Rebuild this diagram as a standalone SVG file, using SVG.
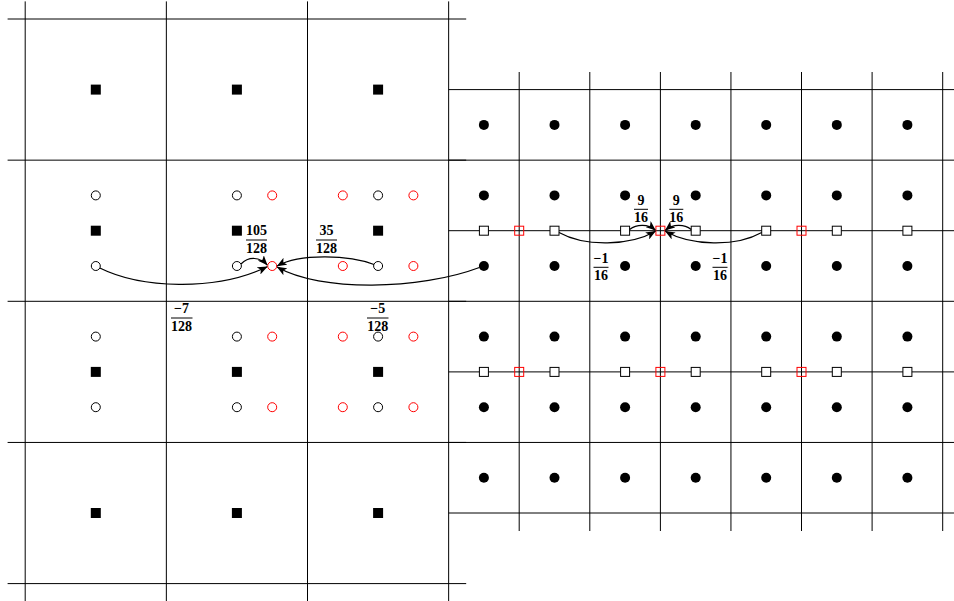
<svg xmlns="http://www.w3.org/2000/svg" width="954" height="601" viewBox="0 0 954 601">
<style>
.g{stroke:#000;stroke-width:1;fill:none}
.sq{fill:#000}
.oc{fill:#fff;stroke:#000;stroke-width:1}
.rc{fill:#fff;stroke:#f00;stroke-width:1}
.dot{fill:#000}
.os{fill:#fff;stroke:#000;stroke-width:1}
.rs{fill:none;stroke:#f00;stroke-width:1}
.con{fill:none;stroke:#000;stroke-width:1.2}
.t{font-family:"Liberation Serif","Times New Roman",serif;font-weight:bold;font-size:14px;text-anchor:middle;fill:#000}
.bar{stroke:#000;stroke-width:1}
</style>
<defs>
<marker id="ah" markerWidth="10" markerHeight="8" refX="9.5" refY="4" orient="auto" markerUnits="userSpaceOnUse">
<path d="M0,0 L10,4 L0,8 L2.5,4 z" fill="#000"/>
</marker>
</defs>
<rect width="954" height="601" fill="#fff"/>
<g id="grid-left" class="g">
<line x1="25.2" y1="1.4" x2="25.2" y2="601"/>
<line x1="166.35" y1="1.4" x2="166.35" y2="601"/>
<line x1="307.5" y1="1.4" x2="307.5" y2="601"/>
<line x1="448.65" y1="1.4" x2="448.65" y2="601"/>
<line x1="7.6" y1="19" x2="466.2" y2="19"/>
<line x1="7.6" y1="160.15" x2="466.2" y2="160.15"/>
<line x1="7.6" y1="301.3" x2="466.2" y2="301.3"/>
<line x1="7.6" y1="442.45" x2="466.2" y2="442.45"/>
<line x1="7.6" y1="583.6" x2="466.2" y2="583.6"/>
</g>
<g id="grid-right" class="g">
<line x1="519.2" y1="72" x2="519.2" y2="531"/>
<line x1="589.8" y1="72" x2="589.8" y2="531"/>
<line x1="660.4" y1="72" x2="660.4" y2="531"/>
<line x1="730.95" y1="72" x2="730.95" y2="531"/>
<line x1="801.5" y1="72" x2="801.5" y2="531"/>
<line x1="872.1" y1="72" x2="872.1" y2="531"/>
<line x1="942.7" y1="72" x2="942.7" y2="531"/>
<line x1="448.65" y1="89.6" x2="960" y2="89.6"/>
<line x1="448.65" y1="160.15" x2="960" y2="160.15"/>
<line x1="448.65" y1="230.7" x2="960" y2="230.7"/>
<line x1="448.65" y1="301.3" x2="960" y2="301.3"/>
<line x1="448.65" y1="371.9" x2="960" y2="371.9"/>
<line x1="448.65" y1="442.45" x2="960" y2="442.45"/>
<line x1="448.65" y1="513" x2="960" y2="513"/>
</g>
<g id="coarse-nodes">
<g id="s-1-1"><rect class="sq" x="90.8" y="84.6" width="10" height="10"/></g>
<g id="s-1-2"><rect class="sq" x="231.9" y="84.6" width="10" height="10"/></g>
<g id="s-1-3"><rect class="sq" x="373.1" y="84.6" width="10" height="10"/></g>
<g id="s-2-1"><rect class="sq" x="90.8" y="225.7" width="10" height="10"/></g>
<g id="s-2-2"><rect class="sq" x="231.9" y="225.7" width="10" height="10"/></g>
<g id="s-2-3"><rect class="sq" x="373.1" y="225.7" width="10" height="10"/></g>
<g id="s-3-1"><rect class="sq" x="90.8" y="366.9" width="10" height="10"/></g>
<g id="s-3-2"><rect class="sq" x="231.9" y="366.9" width="10" height="10"/></g>
<g id="s-3-3"><rect class="sq" x="373.1" y="366.9" width="10" height="10"/></g>
<g id="s-4-1"><rect class="sq" x="90.8" y="508" width="10" height="10"/></g>
<g id="s-4-2"><rect class="sq" x="231.9" y="508" width="10" height="10"/></g>
<g id="s-4-3"><rect class="sq" x="373.1" y="508" width="10" height="10"/></g>
</g>
<g id="circle-nodes">
<g id="oc-a1"><circle class="oc" cx="95.8" cy="195.4" r="4.5"/></g>
<g id="oc-a2"><circle class="oc" cx="95.8" cy="266" r="4.5"/></g>
<g id="oc-a3"><circle class="oc" cx="95.8" cy="336.6" r="4.5"/></g>
<g id="oc-a4"><circle class="oc" cx="95.8" cy="407.2" r="4.5"/></g>
<g id="oc-b1"><circle class="oc" cx="236.9" cy="195.4" r="4.5"/></g>
<g id="oc-b2"><circle class="oc" cx="236.9" cy="266" r="4.5"/></g>
<g id="oc-b3"><circle class="oc" cx="236.9" cy="336.6" r="4.5"/></g>
<g id="oc-b4"><circle class="oc" cx="236.9" cy="407.2" r="4.5"/></g>
<g id="oc-c1"><circle class="oc" cx="378.1" cy="195.4" r="4.5"/></g>
<g id="oc-c2"><circle class="oc" cx="378.1" cy="266" r="4.5"/></g>
<g id="oc-c3"><circle class="oc" cx="378.1" cy="336.6" r="4.5"/></g>
<g id="oc-c4"><circle class="oc" cx="378.1" cy="407.2" r="4.5"/></g>
<g id="rc-a1"><circle class="rc" cx="272.2" cy="195.4" r="4.5"/></g>
<g id="rc-a2"><circle class="rc" cx="272.2" cy="266" r="4.5"/></g>
<g id="rc-a3"><circle class="rc" cx="272.2" cy="336.6" r="4.5"/></g>
<g id="rc-a4"><circle class="rc" cx="272.2" cy="407.2" r="4.5"/></g>
<g id="rc-b1"><circle class="rc" cx="342.8" cy="195.4" r="4.5"/></g>
<g id="rc-b2"><circle class="rc" cx="342.8" cy="266" r="4.5"/></g>
<g id="rc-b3"><circle class="rc" cx="342.8" cy="336.6" r="4.5"/></g>
<g id="rc-b4"><circle class="rc" cx="342.8" cy="407.2" r="4.5"/></g>
<g id="rc-c1"><circle class="rc" cx="413.4" cy="195.4" r="4.5"/></g>
<g id="rc-c2"><circle class="rc" cx="413.4" cy="266" r="4.5"/></g>
<g id="rc-c3"><circle class="rc" cx="413.4" cy="336.6" r="4.5"/></g>
<g id="rc-c4"><circle class="rc" cx="413.4" cy="407.2" r="4.5"/></g>
</g>
<g id="fine-nodes">
<g id="d-1-1"><circle class="dot" cx="483.9" cy="124.9" r="5"/></g>
<g id="d-1-2"><circle class="dot" cx="554.5" cy="124.9" r="5"/></g>
<g id="d-1-3"><circle class="dot" cx="625.1" cy="124.9" r="5"/></g>
<g id="d-1-4"><circle class="dot" cx="695.7" cy="124.9" r="5"/></g>
<g id="d-1-5"><circle class="dot" cx="766.2" cy="124.9" r="5"/></g>
<g id="d-1-6"><circle class="dot" cx="836.8" cy="124.9" r="5"/></g>
<g id="d-1-7"><circle class="dot" cx="907.4" cy="124.9" r="5"/></g>
<g id="d-2-1"><circle class="dot" cx="483.9" cy="195.4" r="5"/></g>
<g id="d-2-2"><circle class="dot" cx="554.5" cy="195.4" r="5"/></g>
<g id="d-2-3"><circle class="dot" cx="625.1" cy="195.4" r="5"/></g>
<g id="d-2-4"><circle class="dot" cx="695.7" cy="195.4" r="5"/></g>
<g id="d-2-5"><circle class="dot" cx="766.2" cy="195.4" r="5"/></g>
<g id="d-2-6"><circle class="dot" cx="836.8" cy="195.4" r="5"/></g>
<g id="d-2-7"><circle class="dot" cx="907.4" cy="195.4" r="5"/></g>
<g id="d-3-1"><circle class="dot" cx="483.9" cy="266" r="5"/></g>
<g id="d-3-2"><circle class="dot" cx="554.5" cy="266" r="5"/></g>
<g id="d-3-3"><circle class="dot" cx="625.1" cy="266" r="5"/></g>
<g id="d-3-4"><circle class="dot" cx="695.7" cy="266" r="5"/></g>
<g id="d-3-5"><circle class="dot" cx="766.2" cy="266" r="5"/></g>
<g id="d-3-6"><circle class="dot" cx="836.8" cy="266" r="5"/></g>
<g id="d-3-7"><circle class="dot" cx="907.4" cy="266" r="5"/></g>
<g id="d-4-1"><circle class="dot" cx="483.9" cy="336.6" r="5"/></g>
<g id="d-4-2"><circle class="dot" cx="554.5" cy="336.6" r="5"/></g>
<g id="d-4-3"><circle class="dot" cx="625.1" cy="336.6" r="5"/></g>
<g id="d-4-4"><circle class="dot" cx="695.7" cy="336.6" r="5"/></g>
<g id="d-4-5"><circle class="dot" cx="766.2" cy="336.6" r="5"/></g>
<g id="d-4-6"><circle class="dot" cx="836.8" cy="336.6" r="5"/></g>
<g id="d-4-7"><circle class="dot" cx="907.4" cy="336.6" r="5"/></g>
<g id="d-5-1"><circle class="dot" cx="483.9" cy="407.2" r="5"/></g>
<g id="d-5-2"><circle class="dot" cx="554.5" cy="407.2" r="5"/></g>
<g id="d-5-3"><circle class="dot" cx="625.1" cy="407.2" r="5"/></g>
<g id="d-5-4"><circle class="dot" cx="695.7" cy="407.2" r="5"/></g>
<g id="d-5-5"><circle class="dot" cx="766.2" cy="407.2" r="5"/></g>
<g id="d-5-6"><circle class="dot" cx="836.8" cy="407.2" r="5"/></g>
<g id="d-5-7"><circle class="dot" cx="907.4" cy="407.2" r="5"/></g>
<g id="d-6-1"><circle class="dot" cx="483.9" cy="477.7" r="5"/></g>
<g id="d-6-2"><circle class="dot" cx="554.5" cy="477.7" r="5"/></g>
<g id="d-6-3"><circle class="dot" cx="625.1" cy="477.7" r="5"/></g>
<g id="d-6-4"><circle class="dot" cx="695.7" cy="477.7" r="5"/></g>
<g id="d-6-5"><circle class="dot" cx="766.2" cy="477.7" r="5"/></g>
<g id="d-6-6"><circle class="dot" cx="836.8" cy="477.7" r="5"/></g>
<g id="d-6-7"><circle class="dot" cx="907.4" cy="477.7" r="5"/></g>
</g>
<g id="edge-nodes">
<g id="os-1-1"><rect class="os" x="479.4" y="226.2" width="9" height="9"/></g>
<g id="os-1-2"><rect class="os" x="550" y="226.2" width="9" height="9"/></g>
<g id="os-1-3"><rect class="os" x="620.6" y="226.2" width="9" height="9"/></g>
<g id="os-1-4"><rect class="os" x="691.2" y="226.2" width="9" height="9"/></g>
<g id="os-1-5"><rect class="os" x="761.7" y="226.2" width="9" height="9"/></g>
<g id="os-1-6"><rect class="os" x="832.3" y="226.2" width="9" height="9"/></g>
<g id="os-1-7"><rect class="os" x="902.9" y="226.2" width="9" height="9"/></g>
<g id="rs-1-1"><rect class="rs" x="514.7" y="226.2" width="9" height="9"/></g>
<g id="rs-1-2"><rect class="rs" x="655.9" y="226.2" width="9" height="9"/></g>
<g id="rs-1-3"><rect class="rs" x="797" y="226.2" width="9" height="9"/></g>
<g id="os-2-1"><rect class="os" x="479.4" y="367.4" width="9" height="9"/></g>
<g id="os-2-2"><rect class="os" x="550" y="367.4" width="9" height="9"/></g>
<g id="os-2-3"><rect class="os" x="620.6" y="367.4" width="9" height="9"/></g>
<g id="os-2-4"><rect class="os" x="691.2" y="367.4" width="9" height="9"/></g>
<g id="os-2-5"><rect class="os" x="761.7" y="367.4" width="9" height="9"/></g>
<g id="os-2-6"><rect class="os" x="832.3" y="367.4" width="9" height="9"/></g>
<g id="os-2-7"><rect class="os" x="902.9" y="367.4" width="9" height="9"/></g>
<g id="rs-2-1"><rect class="rs" x="514.7" y="367.4" width="9" height="9"/></g>
<g id="rs-2-2"><rect class="rs" x="655.9" y="367.4" width="9" height="9"/></g>
<g id="rs-2-3"><rect class="rs" x="797" y="367.4" width="9" height="9"/></g>
</g>
<g id="connectors">
<path class="con" marker-end="url(#ah)" d="M99.8,268 C140,288 215,292 267.2,266.8"/>
<path class="con" marker-end="url(#ah)" d="M241,264 C249,256 260,257 267.2,265"/>
<path class="con" marker-end="url(#ah)" d="M374,264.5 C350,255 300,253 277.2,266"/>
<path class="con" marker-end="url(#ah)" d="M479.4,267.5 C420,290 320,292 277.2,267"/>
<path class="con" marker-end="url(#ah)" d="M559,232.5 C585,247 630,246 655.4,231.2"/>
<path class="con" marker-end="url(#ah)" d="M629.6,229.5 C637,224 648,224 655.4,230.2"/>
<path class="con" marker-end="url(#ah)" d="M691.2,229.5 C684,224 673,224 665.4,230.2"/>
<path class="con" marker-end="url(#ah)" d="M761.7,232.5 C736,247 691,246 665.4,231.2"/>
</g>
<g id="labels">
<g id="w1"><text class="t" x="256.5" y="235.3">105</text><line class="bar" x1="246" y1="240" x2="267" y2="240"/><text class="t" x="256.5" y="253">128</text></g>
<g id="w2"><text class="t" x="326.5" y="235.3">35</text><line class="bar" x1="316" y1="240" x2="337" y2="240"/><text class="t" x="326.5" y="253">128</text></g>
<g id="w3"><text class="t" x="181.5" y="313.3">−7</text><line class="bar" x1="171" y1="318" x2="192.5" y2="318"/><text class="t" x="181.5" y="331">128</text></g>
<g id="w4"><text class="t" x="377.7" y="313.3">−5</text><line class="bar" x1="367" y1="318" x2="388.5" y2="318"/><text class="t" x="377.7" y="331">128</text></g>
<g id="w5"><text class="t" x="641" y="204.6">9</text><line class="bar" x1="634" y1="209.3" x2="648" y2="209.3"/><text class="t" x="641" y="222.3">16</text></g>
<g id="w6"><text class="t" x="676.3" y="204.6">9</text><line class="bar" x1="669.3" y1="209.3" x2="683.3" y2="209.3"/><text class="t" x="676.3" y="222.3">16</text></g>
<g id="w7"><text class="t" x="601" y="262.6">−1</text><line class="bar" x1="593.5" y1="267.3" x2="608.5" y2="267.3"/><text class="t" x="601" y="280.3">16</text></g>
<g id="w8"><text class="t" x="720" y="262.6">−1</text><line class="bar" x1="712.5" y1="267.3" x2="727.5" y2="267.3"/><text class="t" x="720" y="280.3">16</text></g>
</g>
</svg>
